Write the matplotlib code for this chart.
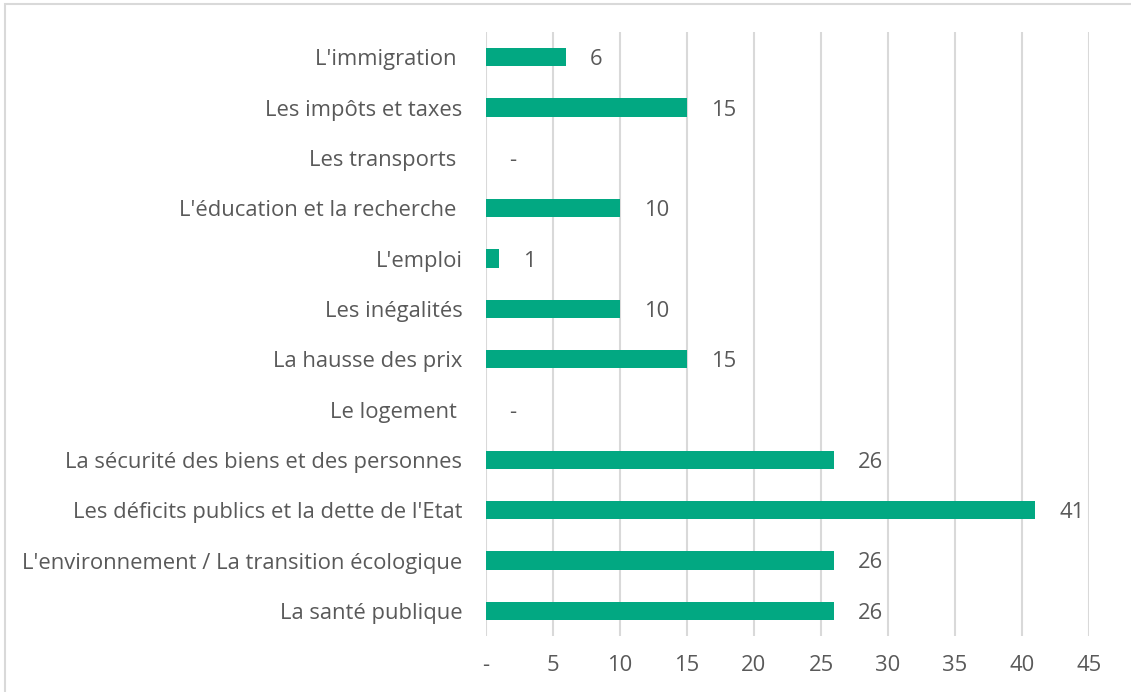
import matplotlib.pyplot as plt
from matplotlib.patches import Rectangle

categories = [
    "L'immigration ",
    "Les impôts et taxes",
    "Les transports ",
    "L'éducation et la recherche ",
    "L'emploi",
    "Les inégalités",
    "La hausse des prix",
    "Le logement ",
    "La sécurité des biens et des personnes",
    "Les déficits publics et la dette de l'Etat",
    "L'environnement / La transition écologique",
    "La santé publique",
]
values = [6, 15, 0, 10, 1, 10, 15, 0, 26, 41, 26, 26]
xticks = [0, 5, 10, 15, 20, 25, 30, 35, 40, 45]
xtick_labels = ["-", "5", "10", "15", "20", "25", "30", "35", "40", "45"]

green = "#02A882"
grey_text = "#595959"
grid_col = "#D9D9D9"
fs = 15.8

plt.rcParams['font.family'] = ['Open Sans', 'DejaVu Sans']

fig = plt.figure(figsize=(11.31, 6.92), dpi=100)
ax = fig.add_axes([486 / 1131, 1 - 636 / 692, 603 / 1131, 604 / 692])

pos = list(range(len(categories)))
ax.barh(pos, values, height=0.36, color=green, zorder=3)
ax.set_ylim(len(categories) - 0.5, -0.5)
ax.set_xlim(0, 45)

# data labels, "-" for zero like Excel's accounting format
for y, v in zip(pos, values):
    txt = "-" if v == 0 else str(v)
    ax.annotate(txt, (v, y), xytext=(17, 0), textcoords="offset points",
                va="center_baseline", ha="left", fontsize=fs, color=grey_text)

ax.set_yticks(pos)
ax.set_yticklabels(categories, fontsize=fs, color=grey_text)
ax.set_xticks(xticks)
ax.set_xticklabels(xtick_labels, fontsize=fs, color=grey_text)
ax.tick_params(axis="both", length=0)
ax.tick_params(axis="y", pad=17)
ax.tick_params(axis="x", pad=14)

ax.grid(axis="x", color=grid_col, linewidth=1.5, zorder=0)
for s in ax.spines.values():
    s.set_visible(False)

fig.patches.append(Rectangle((5 / 1131, -0.1), 1.2, 1.1 - 4 / 692,
                             transform=fig.transFigure, fill=False,
                             edgecolor=grid_col, linewidth=1.5))

fig.savefig("out.png", dpi=100)
